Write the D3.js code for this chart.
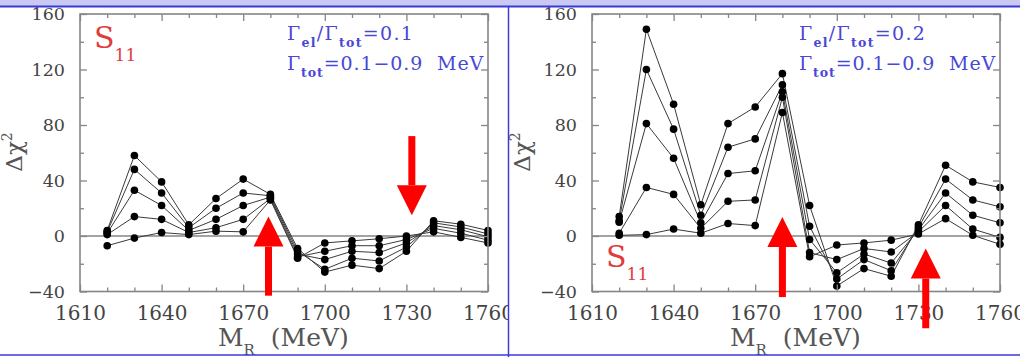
<!DOCTYPE html>
<html><head><meta charset="utf-8">
<script src="https://cdn.jsdelivr.net/npm/d3@7"></script>
<style>body{margin:0;background:#fff;} svg{display:block;}</style>
</head><body><svg id="c" width="1020" height="357"></svg>
<script>
// ---- data ----
const massValues = [1620,1630,1640,1650,1660,1670,1680,1690,1700,1710,1720,1730,1740,1750,1760];
// series ordered Γtot = 0.9, 0.7, 0.5, 0.3, 0.1 MeV
const leftSeries09 = [4, 58, 39, 8, 27, 41, 30, -9, -26, -21, -23.5, -11, 11, 8.5, 4];
const leftSeries07 = [3, 48, 31, 6, 20, 31, 29, -11, -24, -16, -18, -8, 9.5, 6.5, 1.5];
const leftSeries05 = [2, 33, 22, 4, 12, 22, 28, -13, -17, -11, -12, -5, 7.5, 4.5, -0.5];
const leftSeries03 = [1, 14, 12, 2.5, 6, 12, 27, -15, -11, -7, -7, -2.5, 5.5, 2, -3];
const leftSeries01 = [-7, -1.5, 2.5, 1, 3.5, 3, 26, -16, -5, -3.5, -2, 0, 3, -1, -5];
const rightSeries09 = [14, 149, 95, 22.5, 81, 93, 117, 22, -36, -23.5, -29, 8, 51, 39, 35];
const rightSeries07 = [11, 120, 77, 15, 64, 70, 109, 7, -31, -17, -25, 6, 41, 26, 21];
const rightSeries05 = [10, 81, 56, 9.5, 45, 47, 104, -2.5, -26.5, -13, -19.5, 4.5, 31, 15, 9.5];
const rightSeries03 = [2, 35, 30, 5.5, 25, 26, 100, -12, -17, -9, -11.5, 3, 22, 5, -1];
const rightSeries01 = [0.5, 1, 5, 2, 9, 7.5, 89, -15, -6.5, -5, -3, 1.5, 12.5, 0.5, -6];
const xTickLabels = [1610, 1640, 1670, 1700, 1730, 1760];
const yTickLabels = [-40, 0, 40, 80, 120, 160];
const ratioLabels = ["0.1", "0.2"];
const widthRangeLabel = "0.1\u22120.9";
// arrow annotations: x position (MeV), tail and tip (Δχ²)
const leftArrows = [{x: 1679.3, tail: -43, tip: 14}, {x: 1732, tail: 72, tip: 15}];
const rightArrows = [{x: 1680, tail: -44, tip: 13.7}, {x: 1732.7, tail: -66.5, tip: -9}];

// ---- drawing ----
const svg = d3.select("#c");
svg.append("rect").attr("width",1020).attr("height",357).attr("fill","#fff");
const defs = svg.append("defs");
defs.append("clipPath").attr("id","clipL").append("rect").attr("x",0).attr("y",0).attr("width",508).attr("height",357);

const FONT = "DejaVu Serif";
const GRAY = "#858585";

function drawPanel(g, ox, series, ratio, s11, arrows, yTitleX) {
  const x = d3.scaleLinear().domain([1610, 1760]).range([ox, ox + 408]);
  const y = d3.scaleLinear().domain([-40, 160]).range([291.5, 14]);
  const xMinor = d3.range(1610, 1761, 10).filter(v => !xTickLabels.includes(v));
  const yMinor = d3.range(-40, 161, 20).filter(v => !yTickLabels.includes(v));

  // zero line
  g.append("line").attr("x1", x(1610)).attr("x2", x(1760)).attr("y1", y(0)).attr("y2", y(0))
    .attr("stroke", GRAY).attr("stroke-width", 1.5);

  const line = d3.line().x((d, i) => x(massValues[i])).y(d => y(d));
  series.forEach(s => {
    g.append("path").attr("d", line(s)).attr("fill", "none").attr("stroke", "#3a3a3a").attr("stroke-width", 1);
  });
  series.forEach(s => {
    g.selectAll(null).data(s).enter().append("circle")
      .attr("cx", (d, i) => x(massValues[i])).attr("cy", d => y(d)).attr("r", 3.8).attr("fill", "#000");
  });

  // axes
  const styleAxis = sel => { sel.select(".domain").remove(); sel.selectAll("line").attr("stroke", GRAY).attr("stroke-width", 1.3); };
  const bottom = g.append("g").attr("transform", `translate(0,${y(-40)})`)
    .call(d3.axisBottom(x).tickValues(xTickLabels).tickSize(-7).tickFormat(d3.format("d"))).call(styleAxis);
  bottom.selectAll("text").attr("y", 14).attr("dy", "0.71em").attr("font-family", FONT).attr("font-size", 20).attr("fill", "#444");
  g.append("g").attr("transform", `translate(0,${y(-40)})`).call(d3.axisBottom(x).tickValues(xMinor).tickSize(-4).tickFormat("")).call(styleAxis);
  g.append("g").attr("transform", `translate(0,${y(160)})`).call(d3.axisTop(x).tickValues(xTickLabels).tickSize(-7).tickFormat("")).call(styleAxis);
  g.append("g").attr("transform", `translate(0,${y(160)})`).call(d3.axisTop(x).tickValues(xMinor).tickSize(-4).tickFormat("")).call(styleAxis);
  const left = g.append("g").attr("transform", `translate(${x(1610)},0)`)
    .call(d3.axisLeft(y).tickValues(yTickLabels).tickSize(-7)).call(styleAxis);
  left.selectAll("text").attr("x", -15).attr("font-family", FONT).attr("font-size", 17.5).attr("fill", "#444");
  g.append("g").attr("transform", `translate(${x(1610)},0)`).call(d3.axisLeft(y).tickValues(yMinor).tickSize(-4).tickFormat("")).call(styleAxis);
  g.append("g").attr("transform", `translate(${x(1760)},0)`).call(d3.axisRight(y).tickValues(yTickLabels).tickSize(-7).tickFormat("")).call(styleAxis);
  g.append("g").attr("transform", `translate(${x(1760)},0)`).call(d3.axisRight(y).tickValues(yMinor).tickSize(-4).tickFormat("")).call(styleAxis);

  g.append("rect").attr("x", x(1610)).attr("y", y(160)).attr("width", x(1760) - x(1610)).attr("height", y(-40) - y(160))
    .attr("fill", "none").attr("stroke", GRAY).attr("stroke-width", 1.6);

  // axis titles
  const xt = g.append("text").attr("x", x(1610) + 138).attr("y", 345.5).attr("font-family", FONT).attr("font-size", 25).attr("fill", "#555");
  xt.append("tspan").text("M");
  xt.append("tspan").attr("dy", 9).attr("font-size", 15).text("R");
  xt.append("tspan").attr("dy", -9).text("\u00a0\u00a0(MeV)");

  const yt = g.append("text").attr("transform", `translate(${yTitleX},152) rotate(-90)`).attr("text-anchor", "middle")
    .attr("font-family", FONT).attr("font-size", 23).attr("fill", "#555");
  yt.append("tspan").text("\u0394\u03c7");
  yt.append("tspan").attr("dy", -10).attr("font-size", 14).text("2");

  // labels
  const st = g.append("text").attr("x", s11.x).attr("y", s11.y).attr("font-family", FONT).attr("font-size", 30).attr("fill", "#e03c3c");
  st.append("tspan").text("S");
  st.append("tspan").attr("dy", 13).attr("font-size", 17).text("11");

  const BLUE = "#4848d4";
  const t1 = g.append("text").attr("x", x(1610) + 207).attr("y", 40).attr("font-family", FONT).attr("font-size", 19).attr("fill", BLUE).attr("letter-spacing", 1.3);
  t1.append("tspan").text("\u0393");
  t1.append("tspan").attr("dy", 7).attr("font-size", 12.5).attr("font-weight", "bold").text("el");
  t1.append("tspan").attr("dy", -7).text("/\u0393");
  t1.append("tspan").attr("dy", 7).attr("font-size", 12.5).attr("font-weight", "bold").text("tot");
  t1.append("tspan").attr("dy", -7).text("=" + ratio);
  const t2 = g.append("text").attr("x", x(1610) + 207).attr("y", 70).attr("font-family", FONT).attr("font-size", 19).attr("fill", BLUE).attr("letter-spacing", 0.9);
  t2.append("tspan").text("\u0393");
  t2.append("tspan").attr("dy", 7).attr("font-size", 12.5).attr("font-weight", "bold").text("tot");
  t2.append("tspan").attr("dy", -7).text("=" + widthRangeLabel + "\u00a0\u00a0MeV");

  // arrows
  arrows.forEach(a => {
    const ax = x(a.x), yTail = y(a.tail), yTip = y(a.tip);
    const dir = yTail > yTip ? 1 : -1; // 1 => pointing up
    const headLen = 30, headW = 15, shaftW = 3.5;
    const yBase = yTip + dir * headLen;
    g.append("rect").attr("x", ax - shaftW).attr("width", shaftW * 2)
      .attr("y", Math.min(yTail, yBase)).attr("height", Math.abs(yTail - yBase)).attr("fill", "#ff0000");
    g.append("path").attr("d", `M${ax},${yTip}L${ax - headW},${yBase}L${ax + headW},${yBase}Z`).attr("fill", "#ff0000");
  });
}

const gL = svg.append("g").attr("clip-path", "url(#clipL)");
drawPanel(gL, 80, [leftSeries09, leftSeries07, leftSeries05, leftSeries03, leftSeries01], ratioLabels[0], {x: 94, y: 48}, leftArrows, 22);
const gR = svg.append("g");
drawPanel(gR, 592, [rightSeries09, rightSeries07, rightSeries05, rightSeries03, rightSeries01], ratioLabels[1], {x: 606, y: 266.5}, rightArrows, 530);

// frame
svg.append("rect").attr("x", 0).attr("y", 0).attr("width", 1020).attr("height", 6).attr("fill", "#c9c9f2");
svg.append("line").attr("x1", 0).attr("x2", 1020).attr("y1", 6.5).attr("y2", 6.5).attr("stroke", "#3a3ad8").attr("stroke-width", 2);
svg.append("line").attr("x1", 508.5).attr("x2", 508.5).attr("y1", 6).attr("y2", 357).attr("stroke", "#3a3ad8").attr("stroke-width", 1.5);
svg.append("line").attr("x1", 0).attr("x2", 1020).attr("y1", 355).attr("y2", 355).attr("stroke", "#3a3ad8").attr("stroke-width", 1.5);
</script></body></html>
